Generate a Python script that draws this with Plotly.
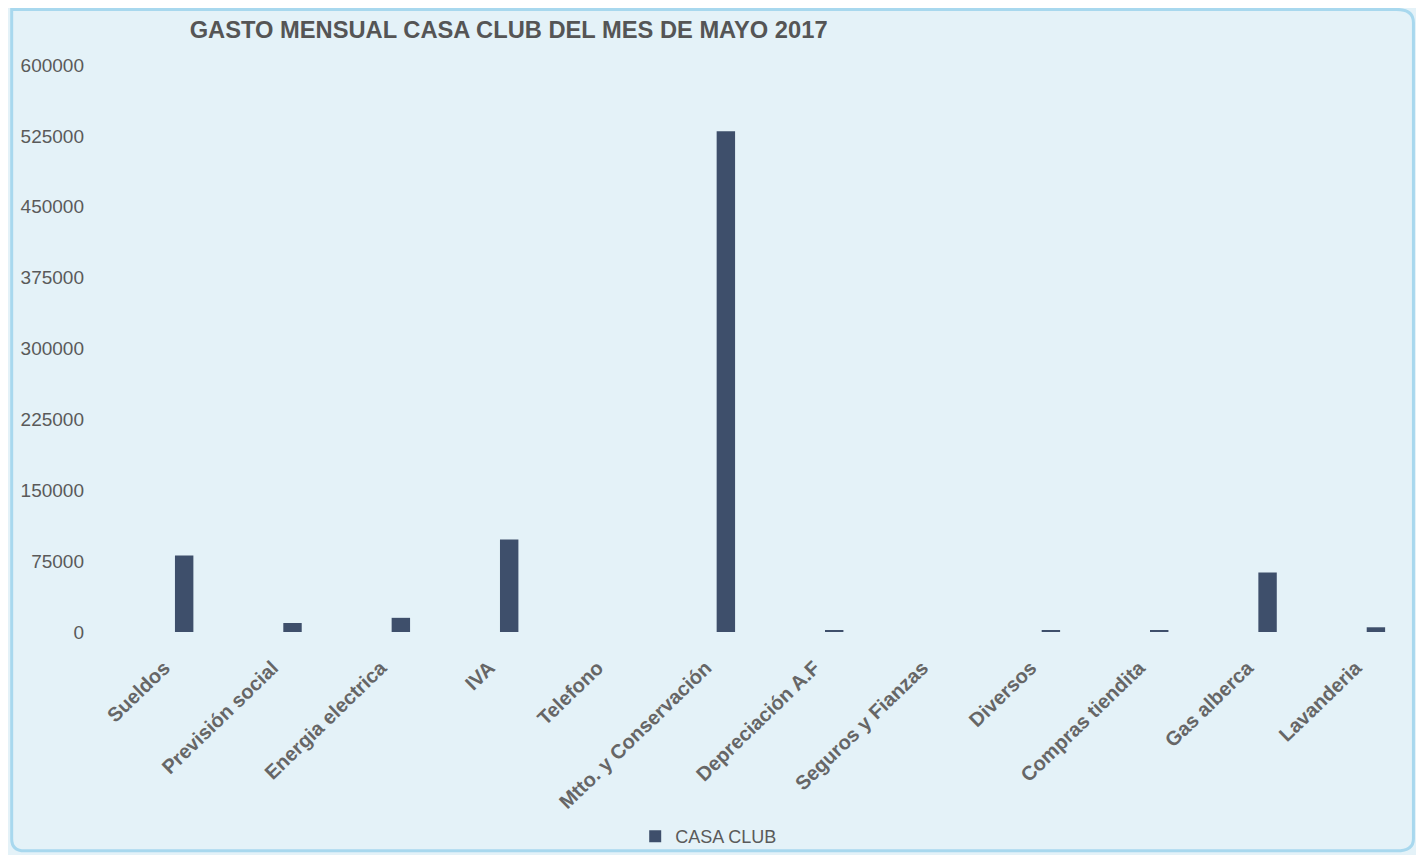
import plotly.graph_objects as go

# Monthly expenses of the club house, May 2017
categorias = [
    "Sueldos", "Previsión social", "Energia electrica", "IVA", "Telefono",
    "Mtto. y Conservación", "Depreciación A.F", "Seguros y Fianzas",
    "Diversos", "Compras tiendita", "Gas alberca", "Lavanderia",
]
gasto = [81000, 9500, 15000, 98000, 0, 530000, 1500, 0, 1500, 2000, 63000, 5000]
y_ticks = [0, 75000, 150000, 225000, 300000, 375000, 450000, 525000, 600000]

BAR_COLOR = "#3e4f6b"
TEXT_COLOR = "#5a5a5a"
FONT = "Arial, Liberation Sans"

fig = go.Figure()

fig.add_trace(go.Bar(
    x=categorias, y=gasto,
    name="CASA CLUB",
    marker=dict(color=BAR_COLOR, line_width=0),
    width=0.17,
))

# pad labels a little so their ends sit left/below the bar like the original
fig.update_xaxes(
    tickangle=-44,
    tickvals=categorias,
    ticktext=[c + "\u00a0" * 5 for c in categorias],
    tickfont=dict(family=FONT, size=20, color="#666666", weight="bold"),
    showgrid=False, showline=False, zeroline=False, ticks="",
    range=[-0.5, 11.37],
)
fig.update_yaxes(
    range=[0, 600000],
    tickvals=y_ticks,
    tickformat="d",
    tickfont=dict(family=FONT, size=19, color=TEXT_COLOR),
    showgrid=False, zeroline=False, showline=False,
    ticklabelstandoff=45,
)

# light blue rounded frame around the chart
fig.add_shape(
    type="path", xref="paper", yref="paper",
    path="M -0.092,1.098 L 0.985,1.098 Q 0.998,1.098 0.998,1.075 L 0.998,-0.365 "
         "Q 0.998,-0.386 0.985,-0.386 L -0.082,-0.386 Q -0.092,-0.386 -0.092,-0.365 Z",
    line=dict(color="#a8d8ee", width=3), layer="below",
)

fig.update_layout(
    title=dict(
        text="GASTO MENSUAL CASA CLUB DEL MES DE MAYO 2017",
        font=dict(family=FONT, size=23.7, color="#555555", weight="bold"),
        x=0.129, xanchor="left", y=0.974, yanchor="middle",
    ),
    width=1408, height=847,
    paper_bgcolor="#e4f2f8",
    plot_bgcolor="rgba(0,0,0,0)",
    margin=dict(l=122, r=0, t=57, b=222),
    bargap=0.83,
    showlegend=True,
    legend=dict(
        orientation="h", x=0.45, xanchor="center", y=-0.361, yanchor="middle",
        font=dict(family=FONT, size=18, color=TEXT_COLOR),
        bgcolor="rgba(0,0,0,0)", itemwidth=30,
    ),
)

fig.write_html("out.html")
